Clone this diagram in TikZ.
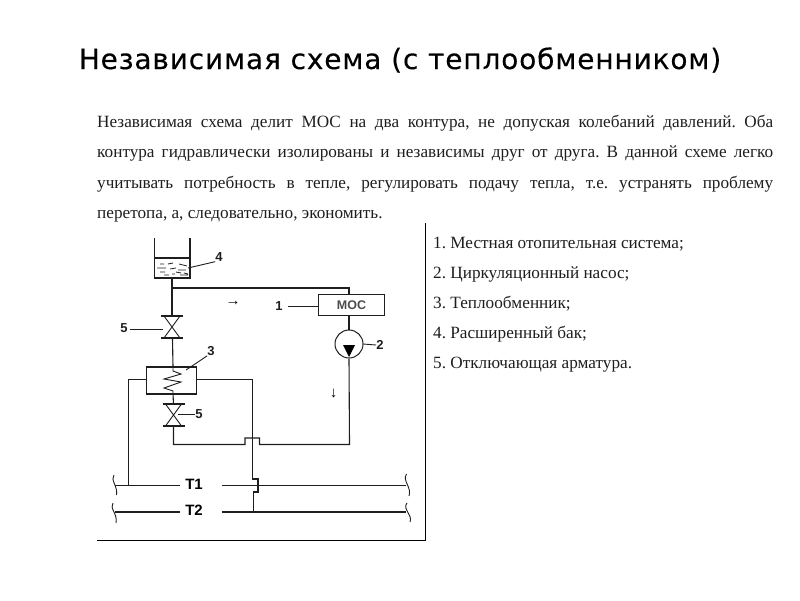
\documentclass[tikz,border=0pt]{standalone}
\usepackage{fontspec}
\setmainfont{Liberation Serif}
\newfontfamily\titlefont[LetterSpace=3,FakeBold=0.25]{DejaVu Sans}
\newfontfamily\labelfont{Liberation Sans}
\usetikzlibrary{calc}
\definecolor{ink}{RGB}{30,30,30}
\tikzset{
  x=1pt,y=-1pt,
  pipe/.style={draw=ink,line width=1.1pt},
  thin pipe/.style={draw=ink,line width=0.9pt},
  box/.style={draw=ink,line width=1.1pt,inner sep=0pt,fill=white},
  partlabel/.style={inner sep=0pt,font=\labelfont\bfseries\fontsize{13}{13}\selectfont,text=ink},
  mainlabel/.style={inner sep=0pt,font=\labelfont\bfseries\fontsize{15}{15}\selectfont,text=black},
  bodyline/.style={inner sep=0pt,anchor=base west,font=\frenchspacing\fontsize{17.2}{18}\selectfont,text=ink},
  listline/.style={inner sep=0pt,anchor=base west,font=\frenchspacing\fontsize{17.2}{18}\selectfont,text=ink},
  flow/.style={inner sep=0pt,font=\fontsize{15}{15}\selectfont},
  pics/valve/.style={code={
    \draw[pipe] (-11,-11) -- (11,-11) (-11,11) -- (11,11);
    \draw[thin pipe] (-8,-11) -- (8,11) (8,-11) -- (-8,11);
  }}
}
\begin{document}
\begin{tikzpicture}
\useasboundingbox (0,0) rectangle (800,600);
% texts
\node[inner sep=0pt,font=\titlefont\fontsize{28}{32}\selectfont,text=black] (title) at (400,60) {Независимая схема (с теплообменником)};
\node[bodyline] (b1) at (97,127) {\hbox to 676pt{Независимая схема делит МОС на два контура, не допуская колебаний давлений. Оба}};
\node[bodyline] (b2) at (97,157.5) {\hbox to 676pt{контура гидравлически изолированы и независимы друг от друга. В данной схеме легко}};
\node[bodyline] (b3) at (97,188) {\hbox to 676pt{учитывать потребность в тепле, регулировать подачу тепла, т.е. устранять проблему}};
\node[bodyline] (b4) at (97,218.5) {перетопа, а, следовательно, экономить.};
\node[listline] (l1) at (433,248) {1. Местная отопительная система;};
\node[listline] (l2) at (433,278) {2. Циркуляционный насос;};
\node[listline] (l3) at (433,308) {3. Теплообменник;};
\node[listline] (l4) at (433,338) {4. Расширенный бак;};
\node[listline] (l5) at (433,368) {5. Отключающая арматура.};
% frame
\coordinate (ftop) at (425.5,223);
\coordinate (fcorner) at (425.5,540);
\coordinate (fleft) at (97,540);
\draw[draw=black,line width=1pt] (ftop) -- (fcorner) -- (fleft);
% tank
\coordinate (tl) at (154.5,238);
\coordinate (tr) at (190,238);
\coordinate (bl) at (154.5,278);
\coordinate (br) at (190,278);
\coordinate (wl) at (154.5,258);
\coordinate (wr) at (190,258);
\draw[pipe] (tl) -- (bl) -- (br) -- (tr);
\draw[pipe] (wl) -- (wr);
\draw[draw=ink,line width=0.8pt]
  (160,264)--(164,264) (168,264)--(173,263) (179,264)--(187,266)
  (157,268)--(166,268) (170,269)--(176,268) (178,270)--(186,270)
  (160,272)--(165,272) (176,272)--(181,273) (184,273)--(188,274)
  (164,275)--(169,275) (172,274)--(175,274) (180,275)--(188,275);
% nodes of the circuit
\coordinate (tankout) at (172,278);
\coordinate (tee) at (172,288);
\coordinate (teer) at (349,288);
\node[box,minimum width=66.5pt,minimum height=20.5pt] (mos) at (351.5,305) {};
\node[inner sep=0pt,font=\labelfont\bfseries\fontsize{12.5}{12}\selectfont,text=black!70] (mostext) at (351.5,305) {МОС};
\coordinate (mostop) at (349,294.7);
\coordinate (mosbot) at (349,315.2);
\node[circle,draw=ink,line width=1pt,minimum size=28pt,inner sep=0pt] (pump) at (349,344) {};
\coordinate (pumpa) at (343,345);
\coordinate (pumpb) at (355,345);
\coordinate (pumpc) at (349,357);
\fill[black] (pumpa) -- (pumpb) -- (pumpc) -- cycle;
\pic at (172,327) {valve};
\coordinate (v1top) at (172,316);
\coordinate (v1bot) at (172.5,338);
\node[box,fill=none,minimum width=50.5pt,minimum height=27pt] (hx) at (171.5,380.5) {};
\coordinate (hxt) at (173,367);
\coordinate (hxb) at (173,394);
\draw[thin pipe] (hxt) -- (173,371) -- (181,374) -- (164,379) -- (181,382) -- (164,388) -- (173,391) -- (hxb);
\pic at (173.5,415) {valve};
\coordinate (v2top) at (173.5,404);
\coordinate (v2bot) at (173.5,426);
% pipes
\draw[pipe] (tankout) -- (tee) -- (v1top);
\draw[pipe] (tee) -- (teer) -- (mostop);
\draw[pipe] (v1bot) -- (hxt);
\draw[pipe] (hxb) -- (v2top);
\draw[pipe] (mosbot) -- (pump.north);
% supply / return
\coordinate (t1a) at (115,485.5);
\coordinate (t1b) at (180,485.5);
\coordinate (t1c) at (221.5,485.5);
\coordinate (t1d) at (406,485.5);
\coordinate (t2a) at (115,512);
\coordinate (t2b) at (180,512);
\coordinate (t2c) at (221.5,512);
\coordinate (t2d) at (406,512);
\node[mainlabel] (T1) at (194,484) {T1};
\node[mainlabel] (T2) at (194,510.5) {T2};
\draw[pipe] (t1a) -- (t1b) (t1c) -- (t1d);
\draw[pipe] (t2a) -- (t2b) (t2c) -- (t2d);
\draw[pipe] (hx.west |- 0,379.5) -- (128.5,379.5) -- (128.5,485.5);
\draw[pipe] (hx.east |- 0,379.5) -- (252.5,379.5) -- (252.5,479) -- (258,479) -- (258,492) -- (253.5,492) -- (253.5,512);
\draw[pipe] (v2bot) -- (173.5,444.5) -- (245,444.5) -- (245,438) -- (259.5,438) -- (259.5,444.5) -- (349.5,444.5) -- (pump.south);
% pipe ends
\draw[thin pipe] (114,475) .. controls (110,480) and (118,486) .. (116.5,495);
\draw[thin pipe] (406.5,474) .. controls (402,481) and (412,487) .. (409,496);
\draw[thin pipe] (113,503) .. controls (109,508) and (118,514) .. (116,523);
\draw[thin pipe] (407,503) .. controls (402,509) and (413,515) .. (410,522);
% part labels
\node[partlabel] (n4) at (219,257) {4};
\coordinate (n4t) at (188,268);
\draw[thin pipe] (n4t) -- (n4.south west);
\node[partlabel] (n5a) at (124,328) {5};
\coordinate (n5at) at (163,329);
\draw[thin pipe] (n5a.east) ++(2,1) -- (n5at);
\node[partlabel] (n3) at (211,351) {3};
\coordinate (n3t) at (186,370);
\draw[thin pipe] (n3t) -- (n3.south west);
\node[partlabel] (n5b) at (199,414) {5};
\coordinate (n5bt) at (178,414);
\draw[thin pipe] (n5bt) -- (n5b.west);
\node[partlabel] (n1) at (279,306) {1};
\draw[thin pipe] (288,306) -- (mos.west |- 0,306);
\node[partlabel] (n2) at (380,345) {2};
\draw[thin pipe] (363,344) -- (n2.west);
% flow marks
\node[flow] (fa) at (233,303) {→};
\node[flow] (fb) at (333.5,394) {↓};
\end{tikzpicture}
\end{document}
